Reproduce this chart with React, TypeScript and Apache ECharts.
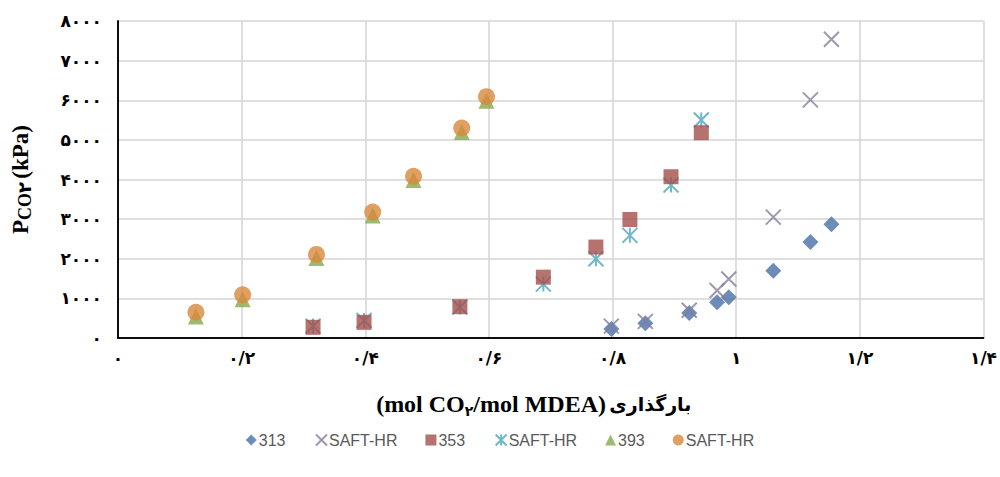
import React, { useEffect, useRef } from "react";
import * as echarts from "echarts";

// ---- data ----
const xTickLabels = ["۰", "۰/۲", "۰/۴", "۰/۶", "۰/۸", "۱", "۱/۲", "۱/۴"];
const yTickLabels = ["۰", "۱۰۰۰", "۲۰۰۰", "۳۰۰۰", "۴۰۰۰", "۵۰۰۰", "۶۰۰۰", "۷۰۰۰", "۸۰۰۰"];

const loading313 = [0.798, 0.853, 0.924, 0.969, 0.988, 1.06, 1.12, 1.154];
const exp313 = [230, 370, 630, 900, 1030, 1700, 2420, 2870];
const saft313 = [300, 420, 700, 1200, 1490, 3050, 6010, 7540];

const loading353 = [0.3155, 0.398, 0.553, 0.688, 0.773, 0.828, 0.8945, 0.9435];
const exp353 = [270, 395, 790, 1535, 2295, 2990, 4070, 5180];
const saft353 = [300, 440, 780, 1360, 2000, 2590, 3860, 5500];

const loading393 = [0.126, 0.2016, 0.321, 0.412, 0.478, 0.556, 0.596];
const exp393 = [540, 980, 2020, 3090, 3990, 5200, 5990];
const saft393 = [650, 1090, 2110, 3180, 4080, 5300, 6090];

const legendNames = ["313", "SAFT-HR#313", "353", "SAFT-HR#353", "393", "SAFT-HR#393"];

const pair = (xs: number[], ys: number[]) => xs.map((x, i) => [x, ys[i]]);

const CROSS = "path://M0,0L10,10M10,0L0,10";
const STAR = "path://M0,0L10,10M10,0L0,10M5,0L5,10";

export default function App() {
  const ref = useRef<HTMLDivElement>(null);
  useEffect(() => {
    if (!ref.current) return;
    const chart = echarts.init(ref.current, null, { renderer: "svg" });
    const axisFont = "'Liberation Serif', 'DejaVu Sans', serif";
    const labelStyle = {
      fontSize: 17,
      fontWeight: "bold" as const,
      color: "#000",
      fontFamily: "'DejaVu Sans', sans-serif",
    };
    chart.setOption({
      animation: false,
      backgroundColor: "#fff",
      grid: { left: 118, right: 13, top: 21, bottom: 139, containLabel: false },
      legend: {
        top: 427,
        left: "center",
        itemWidth: 11,
        itemHeight: 11,
        itemGap: 28,
        data: legendNames,
        formatter: (n: string) => n.replace(/#.*/, ""),
        textStyle: { fontSize: 16, color: "#595959", fontFamily: "'Liberation Sans', Arial, sans-serif", padding: [0, 0, 0, -3] },
      },
      xAxis: [
        {
          type: "value",
          min: 0,
          max: 1.4,
          interval: 0.2,
          axisLine: { show: true, lineStyle: { color: "#000", width: 1.5 } },
          axisTick: { show: false },
          splitLine: { show: true, lineStyle: { color: "#d4d4d4", width: 1.5 } },
          axisLabel: {
            ...labelStyle,
            margin: 11,
            formatter: (v: number) => xTickLabels[Math.round(v / 0.2)],
          },
          name: "{n|(mol CO}{s|۲}{n|/mol MDEA)} {f|بارگذاری}",
          nameLocation: "middle",
          nameGap: 52,
          nameTextStyle: {
            padding: [0, 34, 0, 0],
            rich: {
              n: { fontSize: 24, fontWeight: "bold", fontFamily: axisFont, color: "#000", lineHeight: 28 },
              s: { fontSize: 14, fontWeight: "bold", fontFamily: axisFont, color: "#000", verticalAlign: "bottom", lineHeight: 14 },
              f: { fontSize: 19, fontWeight: "bold", fontFamily: "'DejaVu Sans', sans-serif", color: "#000", lineHeight: 28 },
            },
          },
        },
        {
          type: "value",
          position: "top",
          min: 0,
          max: 1.4,
          interval: 0.2,
          axisLine: { show: true, lineStyle: { color: "#000", width: 1.5 } },
          axisTick: { show: false },
          axisLabel: { show: false },
          splitLine: { show: false },
        },
      ],
      yAxis: [
        {
          type: "value",
          min: 0,
          max: 8000,
          interval: 1000,
          axisLine: { show: true, lineStyle: { color: "#000", width: 1.5 } },
          axisTick: { show: false },
          splitLine: { show: true, lineStyle: { color: "#d4d4d4", width: 1.5 } },
          axisLabel: {
            ...labelStyle,
            margin: 16,
            formatter: (v: number) => yTickLabels[Math.round(v / 1000)],
          },
          name: "{p|P}{s|CO۲} {p|(kPa)}",
          nameLocation: "middle",
          nameGap: 84,
          nameRotate: 90,
          nameTextStyle: {
            rich: {
              p: { fontSize: 23, fontWeight: "bold", fontFamily: axisFont, color: "#000", lineHeight: 28 },
              s: { fontSize: 18, fontWeight: "bold", fontFamily: axisFont, color: "#000", verticalAlign: "bottom", lineHeight: 16 },
            },
          },
        },
        {
          type: "value",
          position: "right",
          min: 0,
          max: 8000,
          interval: 1000,
          axisLine: { show: true, lineStyle: { color: "#000", width: 1.5 } },
          axisTick: { show: false },
          axisLabel: { show: false },
          splitLine: { show: false },
        },
      ],
      series: [
        {
          name: legendNames[0],
          type: "scatter",
          symbol: "diamond",
          symbolSize: 16,
          z: 2,
          itemStyle: { color: "#4a6fa8" },
          data: pair(loading313, exp313),
        },
        {
          name: legendNames[1],
          type: "scatter",
          symbol: CROSS,
          symbolSize: 15,
          z: 3,
          itemStyle: { color: "none", borderColor: "#857d9c", borderWidth: 2 },
          data: pair(loading313, saft313),
        },
        {
          name: legendNames[2],
          type: "scatter",
          symbol: "rect",
          symbolSize: 15,
          z: 5,
          itemStyle: { color: "#a44f4b" },
          data: pair(loading353, exp353),
        },
        {
          name: legendNames[3],
          type: "scatter",
          symbol: STAR,
          symbolSize: 15,
          z: 4,
          itemStyle: { color: "none", borderColor: "#4aa6bd", borderWidth: 2 },
          data: pair(loading353, saft353),
        },
        {
          name: legendNames[4],
          type: "scatter",
          symbol: "triangle",
          symbolSize: 16,
          z: 6,
          itemStyle: { color: "#86a94d" },
          data: pair(loading393, exp393),
        },
        {
          name: legendNames[5],
          type: "scatter",
          symbol: "circle",
          symbolSize: 17,
          z: 7,
          itemStyle: { color: "#d8883c" },
          data: pair(loading393, saft393),
        },
      ],
    });
    return () => chart.dispose();
  }, []);
  return (
    <div
      ref={ref}
      style={{ position: "fixed", left: 0, top: 0, width: 1000, height: 477 }}
    />
  );
}
